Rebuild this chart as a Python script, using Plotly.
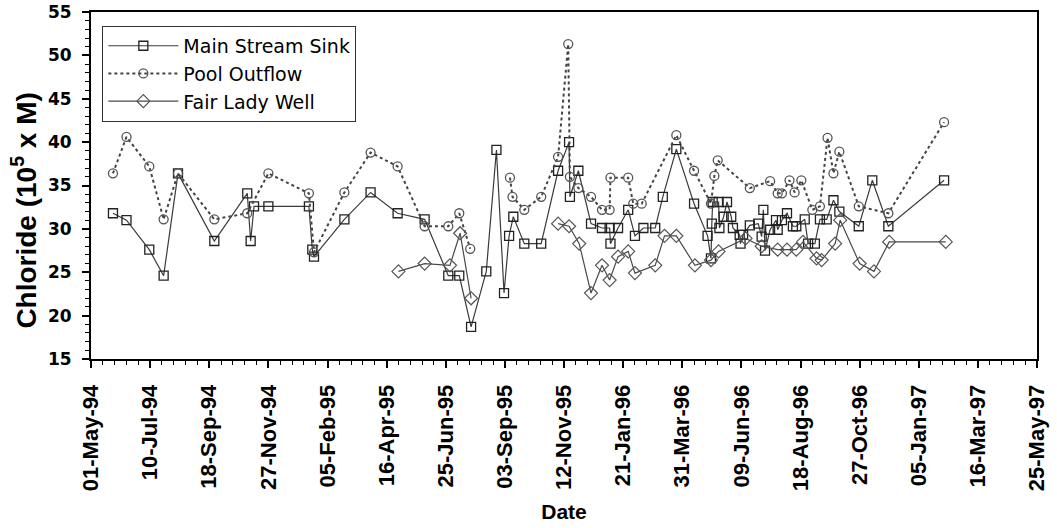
import plotly.graph_objects as go

# ---------------- data ----------------
main_dates = ["1994-05-27","1994-06-12","1994-07-09","1994-07-26","1994-08-12","1994-09-24",
              "1994-11-02","1994-11-06","1994-11-10","1994-11-27","1995-01-14","1995-01-18",
              "1995-01-20","1995-02-25","1995-03-28","1995-04-29","1995-05-31","1995-06-28",
              "1995-07-11","1995-07-25","1995-08-12","1995-08-24","1995-09-02","1995-09-08",
              "1995-09-13","1995-09-26","1995-10-16","1995-11-05","1995-11-18","1995-11-19",
              "1995-11-29","1995-12-14","1995-12-27","1996-01-05","1996-01-06","1996-01-15",
              "1996-01-27","1996-02-04","1996-02-14","1996-02-28","1996-03-08","1996-03-24",
              "1996-04-14","1996-04-30","1996-05-04","1996-05-05","1996-05-06","1996-05-13",
              "1996-05-14","1996-05-19","1996-05-23","1996-05-28","1996-05-30","1996-06-07",
              "1996-06-08","1996-06-11","1996-06-19","1996-06-29","1996-07-03","1996-07-05",
              "1996-07-07","1996-07-13","1996-07-20","1996-07-22","1996-07-27","1996-08-02",
              "1996-08-09","1996-08-13","1996-08-23","1996-08-27","1996-09-04","1996-09-10",
              "1996-09-18","1996-09-26","1996-10-03","1996-10-26","1996-11-11","1996-11-30",
              "1997-02-04"]
main_values = [31.8, 31.0, 27.6, 24.6, 36.4, 28.6,
               34.1, 28.6, 32.6, 32.6, 32.6, 27.6,
               26.8, 31.1, 34.2, 31.8, 31.1, 24.6,
               24.6, 18.7, 25.1, 39.1, 22.6, 29.2,
               31.4, 28.3, 28.3, 36.7, 40.0, 33.7,
               36.7, 30.6, 30.1, 30.1, 28.3, 30.1,
               32.2, 29.2, 30.1, 30.1, 33.7, 39.2,
               32.9, 29.2, 26.6, 30.6, 33.1, 33.1,
               30.1, 31.4, 33.1, 31.4, 30.1, 29.3,
               28.3, 29.3, 30.4, 30.6, 29.1, 32.2,
               27.5, 29.9, 31.0, 29.9, 31.0, 31.8,
               30.3, 30.3, 31.1, 28.3, 28.3, 31.1,
               31.1, 33.3, 32.0, 30.3, 35.6, 30.3,
               35.6]

pool_dates = ["1994-05-27","1994-06-12","1994-07-09","1994-07-26","1994-08-12","1994-09-24",
              "1994-11-02","1994-11-27","1995-01-14","1995-01-20","1995-02-25","1995-03-28",
              "1995-04-29","1995-05-31","1995-06-28","1995-07-11","1995-07-24","1995-08-15",
              "1995-09-09","1995-09-12","1995-09-26","1995-10-16","1995-11-05","1995-11-17",
              "1995-11-19","1995-11-29","1995-12-14","1995-12-27","1996-01-05","1996-01-06",
              "1996-01-27","1996-02-02","1996-02-12","1996-03-24","1996-04-14","1996-05-04",
              "1996-05-08","1996-05-12","1996-06-19","1996-07-13","1996-07-22","1996-07-27",
              "1996-08-05","1996-08-11","1996-08-19","1996-09-01","1996-09-10","1996-09-19",
              "1996-09-26","1996-10-03","1996-10-26","1996-11-30","1997-02-04"]
pool_values = [36.4, 40.6, 37.2, 31.1, 36.4, 31.1,
               31.8, 36.4, 34.1, 27.3, 34.2, 38.8,
               37.2, 30.3, 30.3, 31.8, 27.7, None,
               35.9, 33.7, 32.2, 33.7, 38.3, 51.3,
               36.0, 34.7, 33.7, 32.2, 32.2, 35.9,
               35.9, 32.9, 32.9, 40.8, 36.7, 32.9,
               36.1, 37.9, 34.7, 35.5, 34.1, 34.1,
               35.6, 34.2, 35.6, 32.2, 32.6, 40.5,
               36.4, 38.9, 32.6, 31.8, 42.3]

fair_dates = ["1995-04-30","1995-05-31","1995-06-30","1995-07-12","1995-07-25","1995-09-15",
              "1995-11-05","1995-11-18","1995-11-30","1995-12-14","1995-12-27","1996-01-05",
              "1996-01-15","1996-01-27","1996-02-04","1996-02-28","1996-03-10","1996-03-24",
              "1996-04-15","1996-05-04","1996-05-13","1996-06-14","1996-07-03","1996-07-22",
              "1996-08-02","1996-08-13","1996-08-21","1996-09-06","1996-09-12","1996-09-28",
              "1996-10-04","1996-10-27","1996-11-13","1996-12-01","1997-02-06"]
fair_values = [25.1, 26.0, 25.8, 29.5, 22.0, None,
               30.6, 30.3, 28.3, 22.6, 25.8, 24.1,
               26.8, 27.4, 24.9, 25.8, 29.2, 29.2,
               25.8, 26.4, 27.4, 28.9, 28.0, 27.6,
               27.6, 27.6, 28.5, 26.6, 26.4, 28.3,
               31.0, 26.0, 25.1, 28.5, 28.5]

x_start = "1994-05-01"
x_end = "1997-05-25"
DAY_MS = 86400000

FONT = "Liberation Sans, Arial, sans-serif"
WIDE_FONT = "DejaVu Sans, Liberation Sans, sans-serif"

fig = go.Figure()
fig.add_trace(go.Scatter(
    x=main_dates, y=main_values, name="Main Stream Sink", mode="lines+markers",
    line=dict(color="#3a3a3a", width=1.2),
    marker=dict(symbol="square-open", size=9, color="#222222", line=dict(width=1.3)),
    connectgaps=False))
fig.add_trace(go.Scatter(
    x=pool_dates, y=pool_values, name="Pool Outflow", mode="lines+markers",
    line=dict(color="#444444", width=2, dash="dot"),
    marker=dict(symbol="circle-open", size=9, color="#555555", line=dict(width=1.3)),
    connectgaps=False))
fig.add_trace(go.Scatter(
    x=fair_dates, y=fair_values, name="Fair Lady Well", mode="lines+markers",
    line=dict(color="#4a4a4a", width=1.2),
    marker=dict(symbol="diamond-open", size=10, color="#555555", line=dict(width=1.2)),
    connectgaps=False))

fig.update_layout(
    width=1057, height=528,
    margin=dict(l=91, r=20, t=12, b=169, autoexpand=False),
    paper_bgcolor="white", plot_bgcolor="white",
    font=dict(family=FONT, color="black"),
    legend=dict(
        x=0.012, y=0.96, xanchor="left", yanchor="top",
        bgcolor="white", bordercolor="#333333", borderwidth=1,
        font=dict(family=WIDE_FONT, size=19, color="black"),
        itemwidth=70, tracegroupgap=0,
    ),
    showlegend=True,
    annotations=[dict(
        text="Chloride (10<sup>5</sup> x M)", textangle=-90,
        xref="paper", yref="paper", x=-0.071, y=0.43,
        xanchor="center", yanchor="middle", showarrow=False,
        font=dict(family=FONT, size=28, color="black", weight="bold"),
    )],
)

fig.update_xaxes(
    type="date", range=[x_start, x_end], automargin=False,
    tick0=x_start, dtick=70 * DAY_MS, tickformat="%d-%b-%y",
    tickangle=-90, ticks="outside", ticklen=7, tickwidth=1.5, tickcolor="black",
    minor=dict(tick0=x_start, dtick=14 * DAY_MS, ticks="outside", ticklen=4,
               tickwidth=1, tickcolor="black", showgrid=False),
    tickfont=dict(family=FONT, size=22, color="black", weight="bold"),
    ticklabelstandoff=8, ticklabeloverflow="allow",
    showline=True, linecolor="black", linewidth=2, mirror=True,
    showgrid=False, zeroline=False,
    title=dict(text="Date", font=dict(family=FONT, size=21, color="black", weight="bold"),
               standoff=14),
)
fig.update_yaxes(
    range=[15, 55], dtick=5, tick0=15, automargin=False,
    ticks="outside", ticklen=7, tickwidth=1.5, tickcolor="black",
    minor=dict(dtick=1, ticks="outside", ticklen=4, tickwidth=1, tickcolor="black",
               showgrid=False),
    tickfont=dict(family=WIDE_FONT, size=17, color="black", weight="bold"),
    ticklabelstandoff=7, ticklabeloverflow="allow",
    showline=True, linecolor="black", linewidth=2, mirror=True,
    showgrid=False, zeroline=False,
)

# remove the default page margin so the figure sits at the window's top-left
fig.write_html("out.html",
               config={"displayModeBar": False},
               post_script="document.body.style.margin='0';document.body.style.padding='0';")
